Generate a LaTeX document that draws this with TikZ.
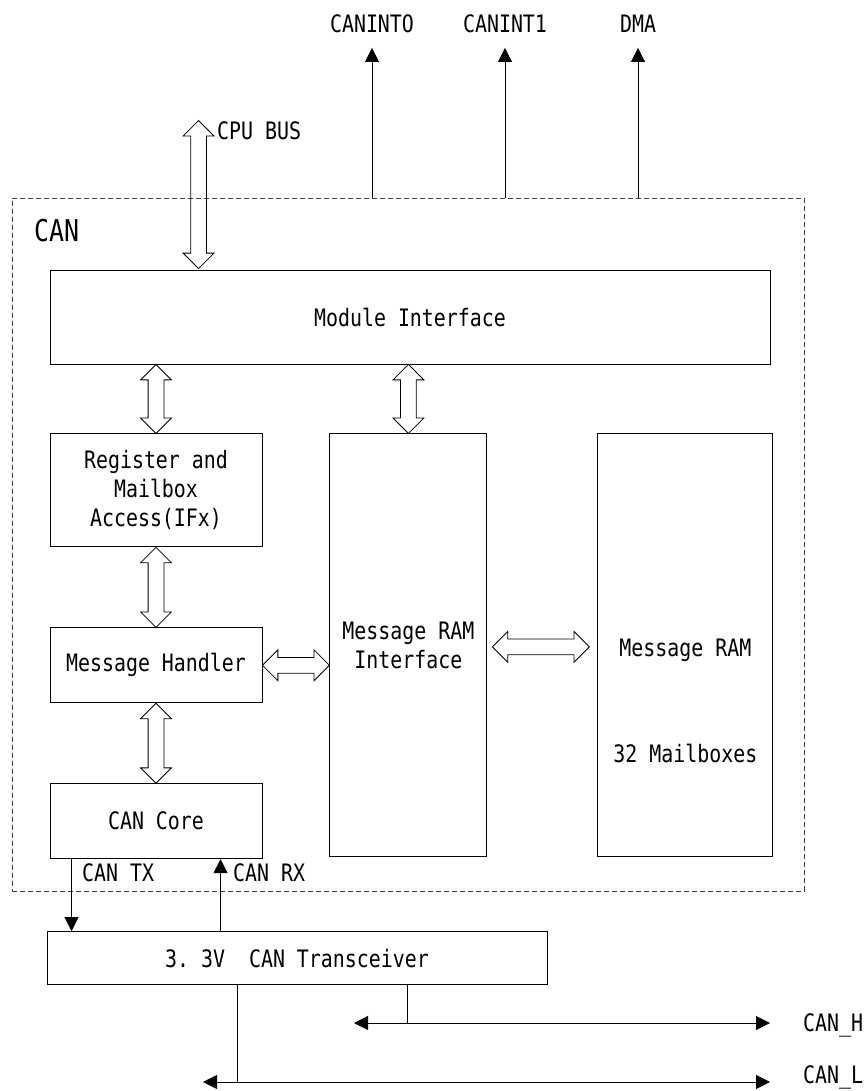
\documentclass[tikz,border=0pt]{standalone}
\usepackage{fontspec}
\setmainfont{DejaVu Sans Mono}[FakeStretch=0.83]
\usetikzlibrary{arrows.meta,positioning,shapes.arrows,calc}

\begin{document}
\begin{tikzpicture}[
  x=1pt, y=-1pt,
  font=\fontsize{24}{29}\selectfont,
  box/.style={draw, line width=0.9pt, inner sep=0pt, align=center},
  lbl/.style={inner sep=0pt, text height=17.5pt, text depth=0pt},
  bus/.style={draw, double arrow, double arrow head extend=7.5pt, inner sep=7.5pt, line width=0.8pt},
  sig/.style={-{Triangle[length=14pt, width=14pt]}, line width=0.8pt},
  wire/.style={line width=0.8pt}
]
  \useasboundingbox (0,0) rectangle (866,1091);

  % CAN module frame
  \node[draw, dashed, dash pattern=on 5pt off 3pt, black!75, line width=0.8pt, inner sep=0pt,
        minimum width=792pt, minimum height=693pt] (can) at (408,544.5) {};
  \node[lbl, anchor=west, text height=22pt, font=\fontsize{30}{36}\selectfont] (canlbl) at (34,230) {CAN};

  % blocks
  \node[box, minimum width=720pt, minimum height=94pt] (mi) at (410,317) {Module Interface};
  \node[box, minimum width=212pt, minimum height=113pt, below right=69pt and 0pt of mi.south west] (reg) {Register and\\Mailbox\\Access(IFx)};
  \node[box, minimum width=212pt, minimum height=75pt, below=80pt of reg] (mh) {Message Handler};
  \node[box, minimum width=212pt, minimum height=75pt, below=80pt of mh] (core) {CAN Core};
  \node[box, minimum width=157pt, minimum height=423pt, below right=0pt and 67pt of reg.north east] (mri) {Message RAM\\Interface};
  \node[box, minimum width=175pt, minimum height=423pt, below right=0pt and 110pt of mri.north east] (ram) {};
  \node[lbl] (ramtxt) at ([yshift=-2.5pt]ram.center) {Message RAM};
  \node[lbl] (mbxtxt) at ([yshift=-108.5pt]ram.center) {32 Mailboxes};
  \node[box, minimum width=500pt, minimum height=53pt, below right=72pt and -3pt of core.south west] (trx) {3.\ 3V\ \ CAN Transceiver};

  % buses
  \node[bus, shape border rotate=90, minimum height=148pt] (cpu) at ($(mi.north west)+(149,-75)$) {};
  \node[lbl, anchor=west] (cpulbl) at (217,131) {CPU BUS};
  \node[bus, shape border rotate=90, minimum height=69pt] at ($(reg.north)!0.5!(reg.north |- mi.south)$) {};
  \node[bus, shape border rotate=90, minimum height=69pt] at ($(mri.north)!0.5!(mri.north |- mi.south)$) {};
  \node[bus, shape border rotate=90, minimum height=80pt] at ($(reg.south)!0.5!(mh.north)$) {};
  \node[bus, shape border rotate=90, minimum height=80pt] at ($(mh.south)!0.5!(core.north)$) {};
  \node[bus, minimum height=67pt] at ($(mh.east)!0.5!(mh.east -| mri.west)$) {};
  \node[bus, minimum height=97pt] at ($(mri.east)!0.5!(ram.west)+(-1.5,1.5)$) {};

  % interrupt / dma outputs
  \node[lbl] (int0) at (372,24) {CANINTO};
  \node[lbl] (int1) at (505,24) {CANINT1};
  \node[lbl] (dma) at (638,24) {DMA};
  \draw[sig] (int0 |- can.north) -- ([yshift=-15pt]int0.south);
  \draw[sig] (int1 |- can.north) -- ([yshift=-15pt]int1.south);
  \draw[sig] (dma |- can.north) -- ([yshift=-15pt]dma.south);

  % tx / rx
  \coordinate (tx) at ([xshift=22pt]core.south west);
  \coordinate (rx) at ([xshift=171pt]core.south west);
  \draw[sig] (tx) -- (tx |- trx.north);
  \draw[sig] (rx |- trx.north) -- (rx);
  \node[lbl, anchor=west] (txlbl) at (82,873) {CAN TX};
  \node[lbl, anchor=west] (rxlbl) at (233,873) {CAN RX};

  % can bus
  \coordinate (hdrop) at ([xshift=361pt]trx.south west);
  \coordinate (ldrop) at ([xshift=191pt]trx.south west);
  \coordinate (hl) at (354,1023);
  \coordinate (hr) at (770,1023);
  \coordinate (ll) at (203,1082);
  \coordinate (lr) at (770,1082);
  \draw[wire] (hdrop) -- (hdrop |- hl);
  \draw[wire] (ldrop) -- (ldrop |- ll);
  \draw[sig, {Triangle[length=14pt, width=14pt]}-{Triangle[length=14pt, width=14pt]}] (hl) -- (hr);
  \draw[sig, {Triangle[length=14pt, width=14pt]}-{Triangle[length=14pt, width=14pt]}] (ll) -- (lr);
  \node[lbl, anchor=west] (canh) at (803,1023) {CAN\_H};
  \node[lbl, anchor=west] (canl) at (803,1075) {CAN\_L};
\end{tikzpicture}
\end{document}
